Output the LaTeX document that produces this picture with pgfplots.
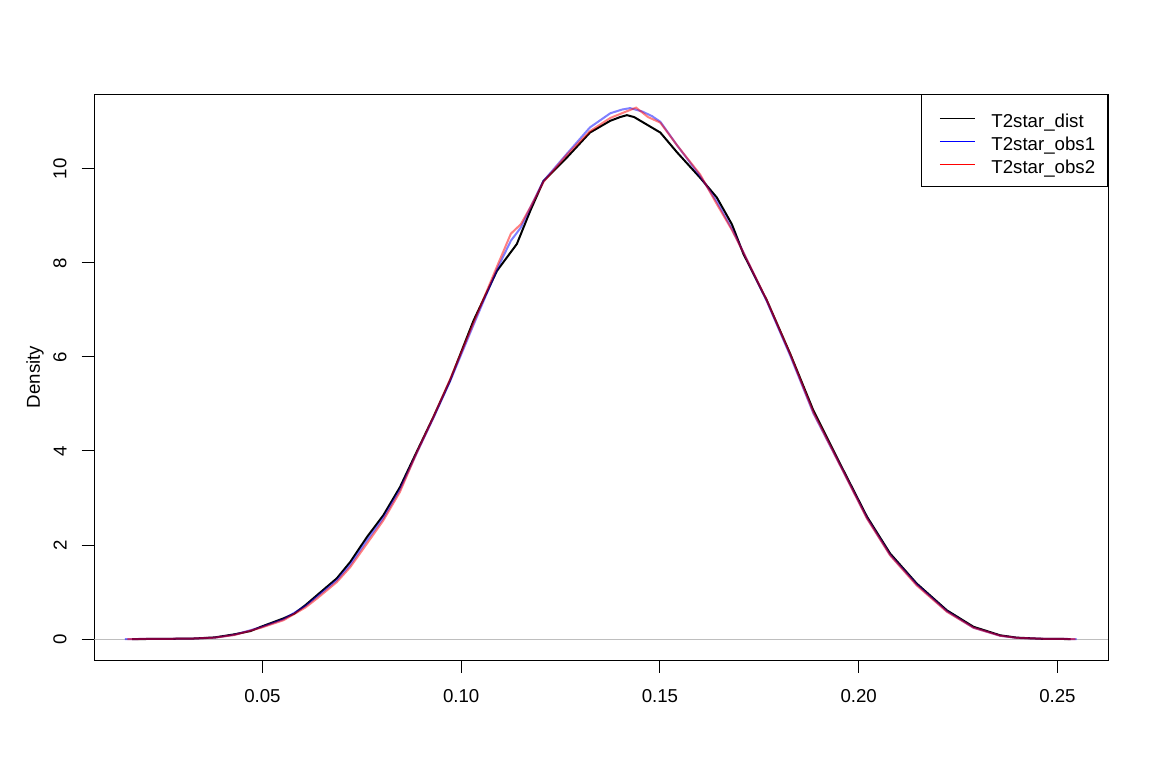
\documentclass[border=0pt]{standalone}
\usepackage{fontspec}
\setmainfont{Liberation Sans}
\usepackage{pgfplots}
\pgfplotsset{compat=1.18}

\definecolor{zeroline}{RGB}{190,190,190}
\definecolor{rblue}{RGB}{0,0,255}
\definecolor{rred}{RGB}{255,0,0}
\newcommand{\rfont}{\fontsize{14}{17}\selectfont}

\begin{document}
\begin{tikzpicture}
\useasboundingbox (-70.7pt,-88.5pt) rectangle (797pt,495pt);
\begin{axis}[
  scale only axis,
  width=760.5pt, height=424.5pt,
  xmin=0.0077, xmax=0.2628,
  ymin=-0.446, ymax=11.59,
  xtick={0.05,0.10,0.15,0.20,0.25},
  ytick={0,2,4,6,8,10},
  /pgf/number format/assume math mode=true,
  xticklabel style={/pgf/number format/fixed, /pgf/number format/fixed zerofill,
    /pgf/number format/precision=2},
  every tick label/.append style={font=\rfont},
  xticklabel style={anchor=north, inner xsep=0pt, inner ysep=12.5pt},
  yticklabel style={rotate=90, anchor=south, inner xsep=0pt, inner ysep=11pt},
  tick align=outside,
  major tick length=9.5pt,
  tick style={black, line width=0.75pt},
  xtick pos=bottom, ytick pos=left,
  axis line style={line width=0.75pt},
  ylabel={Density},
  ylabel style={at={(axis description cs:-0.0585,0.5)}, anchor=center, font=\rfont},
  legend cell align=left,
  legend style={at={(1,1)}, anchor=north east, draw=black, line width=0.75pt,
    fill=white, inner xsep=9.5pt, inner ysep=8.625pt, column sep=12pt,
    nodes={inner sep=0pt, text height=16pt, text depth=1.25pt, font=\rfont}},
]

% horizontal zero line
\addplot[zeroline, line width=0.75pt, forget plot] coordinates {(0.0077,0) (0.2628,0)};

% T2star_dist
\addplot[black, line width=1.5pt, forget plot] table {
x y
0.0172 0.00
0.0250 0.003
0.0328 0.012
0.0380 0.035
0.0429 0.10
0.0470 0.17
0.0496 0.26
0.0553 0.44
0.0580 0.54
0.0608 0.72
0.0637 0.93
0.0687 1.29
0.0721 1.64
0.0763 2.17
0.0804 2.63
0.0846 3.23
0.0888 3.98
0.0930 4.72
0.0972 5.50
0.1031 6.77
0.1090 7.83
0.1140 8.40
0.1174 9.11
0.1207 9.74
0.1266 10.24
0.1324 10.77
0.1375 11.02
0.1400 11.10
0.1417 11.14
0.1435 11.10
0.1459 10.98
0.1501 10.77
0.1543 10.35
0.1601 9.81
0.1643 9.39
0.1681 8.82
0.1710 8.19
0.1769 7.20
0.1828 6.06
0.1886 4.86
0.1953 3.73
0.2021 2.60
0.2079 1.82
0.2146 1.18
0.2222 0.61
0.2289 0.26
0.2356 0.08
0.2398 0.03
0.2460 0.006
0.2533 0.00
};

% T2star_obs1
\addplot[draw=rblue, opacity=0.5, line width=1.5pt, forget plot] table {
x y
0.0154 0.00
0.0250 0.004
0.0328 0.012
0.0380 0.03
0.0429 0.09
0.0496 0.25
0.0553 0.42
0.0608 0.70
0.0637 0.90
0.0687 1.25
0.0721 1.58
0.0763 2.10
0.0804 2.57
0.0846 3.18
0.0888 3.95
0.0930 4.70
0.0972 5.48
0.1031 6.68
0.1090 7.86
0.1125 8.47
0.1150 8.75
0.1174 9.18
0.1207 9.74
0.1266 10.32
0.1324 10.88
0.1375 11.18
0.1405 11.26
0.1425 11.29
0.1455 11.22
0.1480 11.12
0.1501 11.00
0.1543 10.50
0.1601 9.85
0.1643 9.30
0.1681 8.72
0.1710 8.22
0.1769 7.18
0.1828 6.02
0.1886 4.80
0.1953 3.70
0.2021 2.57
0.2079 1.79
0.2146 1.16
0.2222 0.59
0.2289 0.24
0.2356 0.07
0.2398 0.025
0.2470 0.005
0.2548 0.00
};

% T2star_obs2
\addplot[draw=rred, opacity=0.5, line width=1.5pt, forget plot] table {
x y
0.0160 0.00
0.0250 0.004
0.0328 0.012
0.0380 0.03
0.0429 0.085
0.0496 0.24
0.0553 0.40
0.0608 0.67
0.0637 0.86
0.0687 1.21
0.0721 1.53
0.0763 2.03
0.0804 2.52
0.0846 3.13
0.0888 3.96
0.0930 4.72
0.0972 5.52
0.1031 6.72
0.1090 7.92
0.1125 8.62
0.1150 8.82
0.1174 9.18
0.1207 9.72
0.1266 10.30
0.1324 10.80
0.1375 11.08
0.1410 11.20
0.1440 11.30
0.1470 11.10
0.1501 10.98
0.1543 10.50
0.1601 9.88
0.1643 9.25
0.1681 8.70
0.1710 8.22
0.1769 7.20
0.1828 6.05
0.1886 4.82
0.1953 3.70
0.2021 2.56
0.2079 1.78
0.2146 1.14
0.2222 0.58
0.2289 0.24
0.2356 0.07
0.2398 0.025
0.2470 0.005
0.2545 0.00
};

\addlegendimage{legend image code/.code={\path (0pt,0pt);
  \draw[black, line width=0.75pt] (4pt,-0.375pt) -- (30.25pt,-0.375pt);}}
\addlegendentry{T2star\_dist}
\addlegendimage{legend image code/.code={\path (0pt,0pt);
  \draw[rblue, line width=0.75pt] (4pt,-0.375pt) -- (30.25pt,-0.375pt);}}
\addlegendentry{T2star\_obs1}
\addlegendimage{legend image code/.code={\path (0pt,0pt);
  \draw[rred, line width=0.75pt] (4pt,-0.375pt) -- (30.25pt,-0.375pt);}}
\addlegendentry{T2star\_obs2}
\end{axis}
\end{tikzpicture}
\end{document}
